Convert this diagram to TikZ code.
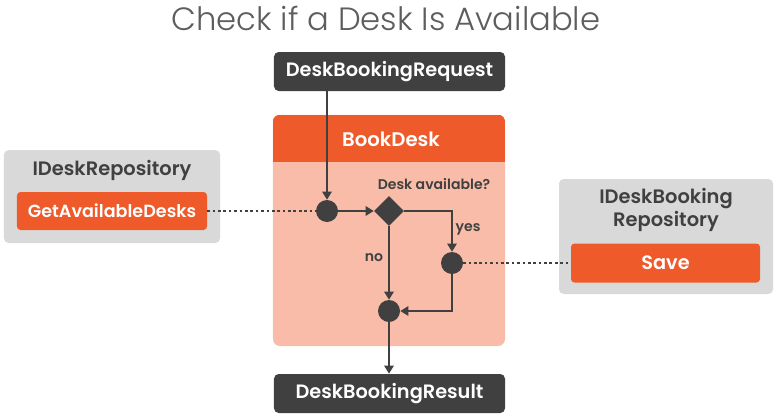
\documentclass[tikz,border=0pt]{standalone}
\usepackage{fontspec}
\setmainfont{Poppins}[BoldFont={Poppins SemiBold}]
\newfontfamily\titlefont{Poppins Light}
\usetikzlibrary{shapes.geometric,arrows.meta}

\definecolor{darkbox}{HTML}{404040}
\definecolor{orangebox}{HTML}{EF5A2A}
\definecolor{salmonbox}{HTML}{F8BCA8}
\definecolor{graybox}{HTML}{D9D9D9}

\begin{document}
\begin{tikzpicture} [x=0.03cm,y=-0.03cm,
  dark/.style= {rounded corners=4pt,fill=darkbox,text=white,font=\bfseries\fontsize{16.5}{19}\selectfont,minimum width=6.93cm,minimum height=1.17cm,inner sep=0},
  button/.style= {rounded corners=3pt,fill=orangebox,text=white,font=\bfseries\fontsize{15}{18}\selectfont,inner sep=0},
  repo/.style= {rounded corners=4pt,fill=graybox,inner sep=0},
  repotext/.style= {text=darkbox,font=\bfseries\fontsize{16.6}{19.5}\selectfont,align=center},
  dot/.style= {circle,fill=darkbox,minimum size=0.66cm,inner sep=0},
  flow/.style= {draw=darkbox,line width=2.3pt,-{Triangle[length=7pt,width=8pt]}},
  link/.style= {draw=darkbox,line width=2.3pt,dash pattern=on 2.3pt off 2.3pt},
  lbl/.style= {text=darkbox,font=\bfseries\fontsize{12}{14}\selectfont}]
\useasboundingbox (0,0) rectangle (776,415);

\node[text=darkbox!85,font=\titlefont\fontsize{27.5}{32}\selectfont] (title) at (386,18) {Check if a Desk Is Available};

\node[dark] (req) at (389.5,71.5) {DeskBookingRequest};
\node[dark] (res) at (389.5,393.5) {DeskBookingResult};

% activity box
\node[rounded corners=6pt,fill=salmonbox,minimum width=6.96cm,minimum height=6.93cm,inner sep=0] (book) at (389,230.5) {};
\begin{scope}
  \clip[rounded corners=6pt] (book.south west) rectangle (book.north east);
  \fill[orangebox] (book.north west) rectangle (505,162);
\end{scope}
\node[text=white,font=\bfseries\fontsize{16.8}{20}\selectfont] (bookhead) at (391,139) {BookDesk};

\node[repo,minimum width=6.48cm,minimum height=2.79cm] (deskrepo) at (112,196.5) {};
\node[repotext] (deskrepotext) at (112,170) {IDeskRepository};
\node[button,minimum width=5.7cm,minimum height=1.14cm] (get) at (112,211) {GetAvailableDesks};

\node[repo,minimum width=6.42cm,minimum height=3.45cm] (bookingrepo) at (666,236.5) {};
\node[repotext] (bookingrepotext) at (666,210) {IDeskBooking\\Repository};
\node[button,minimum width=5.67cm,minimum height=1.17cm,font=\bfseries\fontsize{16.5}{19}\selectfont] (save) at (665.5,263) {Save};

\node[dot] (c1) at (327,211) {};
\node[diamond,fill=darkbox,minimum size=0.9cm,inner sep=0] (check) at (389,211) {};
\node[dot] (c2) at (452,263) {};
\node[dot] (c3) at (389,311) {};

\node[lbl] (q) at (434,184) {Desk available?};
\node[lbl] (yes) at (468,229) {yes};
\node[lbl] (no) at (374,258) {no};

\draw[flow] (c1|-req.south) -- (c1);
\draw[flow] (c1) -- (check);
\draw[flow] (check.east) -| (c2);
\draw[flow] (check) -- (c3);
\draw[flow] (c2) |- (c3);
\draw[flow] (c3) -- (c3|-res.north);

\draw[link] (get) -- (c1);
\draw[link] (c2) -- (save);
\end{tikzpicture}
\end{document}
